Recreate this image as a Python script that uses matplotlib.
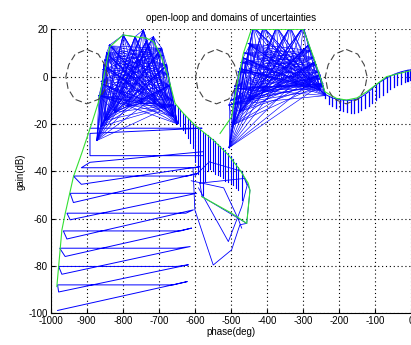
import numpy as np
import matplotlib.pyplot as plt

plt.rcParams['font.family'] = ['Liberation Sans', 'DejaVu Sans']
plt.rcParams['font.size'] = 7
plt.rcParams['axes.unicode_minus'] = False

# critical-point exclusion contours (dashed), centres and shape offsets
circle_centres = [-900, -540, -180]
circle_dphase = [0, 32, 50, 58, 52, 34, 0, -34, -52, -58, -50, -32, 0]
circle_dgain = [11.5, 9.5, 5, 0, -5, -9.5, -11.5, -9.5, -5, 0, 5, 9.5, 11.5]

# left dome: lower arc points and upper boundary points
ld_arc_phase = [-872, -860, -849, -822, -785, -748, -711, -683, -660, -648]
ld_arc_gain = [-27, -21, -18.5, -15, -12.5, -11.3, -11.3, -13.4, -16.9, -20]
ld_top_phase = [-866, -858, -853, -845, -836, -799, -766, -743, -735, -715, -692, -678, -669, -660]
ld_top_gain = [-8, -3, 5, 10, 13.4, 17.6, 16.9, 19.7, 15, 16.9, 12, 4.9, -3.5, -12]
# cross lines inside the left dome (left edge -> right edge)
ld_cross_left = [(-866, -8), (-860, -2), (-855, 3), (-850, 7), (-845, 10), (-838, 13)]
ld_cross_right = [(-662, -10), (-668, -4), (-674, 1), (-680, 5), (-688, 9), (-695, 12)]

# middle dome
md_arc_phase = [-505, -494, -475, -447, -410, -364, -318, -281, -253, -237]
md_arc_gain = [-30, -20.4, -14.8, -9.9, -6.4, -4.2, -3.5, -4.2, -5.6, -8]
md_top_phase = [-505, -489, -475, -466, -447, -438, -410, -373, -336, -299, -285, -267, -253, -245]
md_top_gain = [-12, -5, 3.5, 8, 13.4, 21, 21, 21, 21, 21, 13.4, 6.3, 0.7, -3]
md_cross_left = [(-500, -10), (-490, -4), (-480, 2), (-472, 6), (-462, 10), (-452, 14)]
md_cross_right = [(-244, -4), (-250, -1), (-256, 2), (-262, 5), (-270, 8), (-278, 11)]

# right band of vertical hatches
rb_phase = [-238, -228, -218, -208, -198, -188, -178, -168, -158, -148, -138, -128, -118,
            -108, -98, -88, -78, -68, -58, -48, -38, -28, -18, -12, -8, -4, -1]
rb_top = [-7.5, -8.3, -9.0, -9.4, -9.7, -9.9, -10.0, -10.0, -9.8, -9.3, -8.6, -7.6, -6.4,
          -5.0, -3.6, -2.5, -1.5, -0.6, 0.2, 0.9, 1.5, 2.0, 2.4, 2.6, 2.7, 2.8, 2.9]
rb_bot = [-9, -11.5, -12.5, -13.3, -14.0, -14.5, -14.9, -15.2, -15.2, -14.8, -14.2, -13.4, -12.4,
          -11.2, -9.8, -8.8, -7.6, -6.5, -5.4, -4.5, -3.7, -3.0, -2.4, -2.0, -1.8, -1.6, -1.5]

# descending band of vertical hatches
db_phase = [-655, -648, -641, -634, -627, -620, -613, -606, -599, -592, -585, -578, -571,
            -564, -557, -550, -543, -536, -529, -522, -515, -508, -501, -494, -487, -480, -470]
db_top = [-12, -13, -14.2, -15.3, -16.4, -17.5, -18.5, -19.5, -20.6, -21.4, -22.3, -23.2, -24,
          -24.8, -25.7, -26.5, -27.4, -28.3, -29.2, -30.2, -31.2, -32.3, -33.6, -35, -36.4, -38, -40.5]
db_bot = [-18, -19.5, -21, -22.5, -24, -26, -28, -30, -36, -41, -45, -50, -44,
          -40, -39, -40, -41, -41.5, -42, -43, -44, -44.5, -45, -46, -47, -48, -52]

# low-frequency zigzag (teeth) at bottom left
teeth_phase = [-981, -621, -660, -981, -978, -618, -650, -978, -969, -613, -650, -975,
               -960, -609, -640, -965, -955, -604, -625, -955, -946, -595, -620, -946,
               -937, -590, -620, -937, -915, -585, -600, -915, -891, -576, -576, -891,
               -891, -580, -600, -891]
teeth_gain = [-98.8, -86.6, -88, -88, -91, -79.5, -80.2, -80.2, -83.5, -71.8, -72.5, -72.5,
              -76, -64, -65.2, -65.2, -68.6, -56.3, -57.7, -57.7, -60.5, -49.3, -49.3, -49.3,
              -53.2, -40.8, -42, -42, -45.5, -38, -38.5, -38.5, -36.2, -31.7, -33.4, -33.4,
              -24, -21.8, -21.8, -21.8]

# polygons around -600..-450 deg
poly1_phase = [-605, -600, -549, -498, -475, -456]
poly1_gain = [-38.7, -56.3, -79.6, -73.2, -62.6, -62]
poly2_phase = [-590, -507, -470, -455, -470, -560, -600]
poly2_gain = [-47, -69.7, -55, -46, -40, -36, -42]
poly3_phase = [-586, -461, -447, -456, -580, -586]
poly3_gain = [-45, -43, -48, -62, -50.7, -45]
poly4_phase = [-610, -520, -480, -470]
poly4_gain = [-44, -47, -60, -64]

# green envelope lines
g1_phase = [-983, -969, -960, -937, -914, -886, -868, -850, -836, -799, -734, -715, -697,
            -674, -655, -632, -600, -549, -507, -475, -452, -447, -456, -498, -581]
g1_gain = [-88.7, -64.8, -58, -42.3, -32.4, -19.7, -11, 2, 12.6, 17.6, 16.2, 14.8, 9.9,
           0, -11.3, -15.5, -20.5, -26.8, -33.1, -39.4, -45, -48, -62, -57.7, -50.7]
g2_phase = [-530, -498, -485, -465, -443]
g2_gain = [-24, -17, -5, 10, 20]
g3_phase = [-443, -299, -271, -239, -207, -179, -150, -123, -68, -12.5, 0]
g3_gain = [20, 20, 8.4, -6.4, -9.2, -9.9, -9, -6.4, 0, 2.1, 2.5]

fig = plt.figure(figsize=(4.11, 3.45), dpi=100)
ax = fig.add_axes([0.1234, 0.0919, 0.8767, 0.8232])

blue = (0, 0, 1)
lw = 0.45

# dome meshes
for arc_p, arc_g, top_p, top_g, cl, cr in [
        (ld_arc_phase, ld_arc_gain, ld_top_phase, ld_top_gain, ld_cross_left, ld_cross_right),
        (md_arc_phase, md_arc_gain, md_top_phase, md_top_gain, md_cross_left, md_cross_right)]:
    for p1, g1 in zip(arc_p, arc_g):
        for p2, g2 in zip(top_p, top_g):
            ax.plot([p1, p2], [g1, g2], color=blue, lw=lw)
    for a in cl:
        for b in cr:
            ax.plot([a[0], b[0]], [a[1], b[1]], color=blue, lw=lw)
    ax.plot(arc_p, arc_g, color=blue, lw=0.7)
    ax.plot(top_p, top_g, color=blue, lw=lw)

# hatch bands
for p, t, b in zip(rb_phase, rb_top, rb_bot):
    ax.plot([p, p], [t, b], color=blue, lw=0.9)
ax.plot(rb_phase, rb_top, color=blue, lw=0.7)
for p, t, b in zip(db_phase, db_top, db_bot):
    ax.plot([p, p], [t, b], color=blue, lw=0.8)

ax.plot(teeth_phase, teeth_gain, color=blue, lw=0.7)
for pp, gg in [(poly1_phase, poly1_gain), (poly2_phase, poly2_gain),
               (poly3_phase, poly3_gain), (poly4_phase, poly4_gain)]:
    ax.plot(pp, gg, color=blue, lw=0.6)

green = '#33e033'
ax.plot(g1_phase, g1_gain, color=green, lw=0.8)
ax.plot(g2_phase, g2_gain, color=green, lw=0.8)
ax.plot(g3_phase, g3_gain, color=green, lw=0.8)

for c in circle_centres:
    ax.plot(np.array(circle_dphase) + c, circle_dgain, color='#444444', lw=0.8,
            linestyle=(0, (6, 3)))

ax.set_xlim(-1000, 0)
ax.set_ylim(-100, 20)
ax.set_xticks(range(-1000, 1, 100))
ax.set_yticks(range(-100, 21, 20))
ax.grid(True, color='k', linestyle=(0, (1, 2.5)), lw=0.8)
ax.set_axisbelow(True)
ax.spines['top'].set_visible(False)
ax.spines['right'].set_visible(False)
ax.tick_params(direction='in', length=3, pad=2, labelsize=7)
ax.set_title('open-loop and domains of uncertainties', fontsize=7, pad=6)
ax.set_xlabel('phase(deg)', fontsize=7, labelpad=1)
ax.set_ylabel('gain(dB)', fontsize=7, labelpad=2)

fig.savefig('out.png', dpi=100)
